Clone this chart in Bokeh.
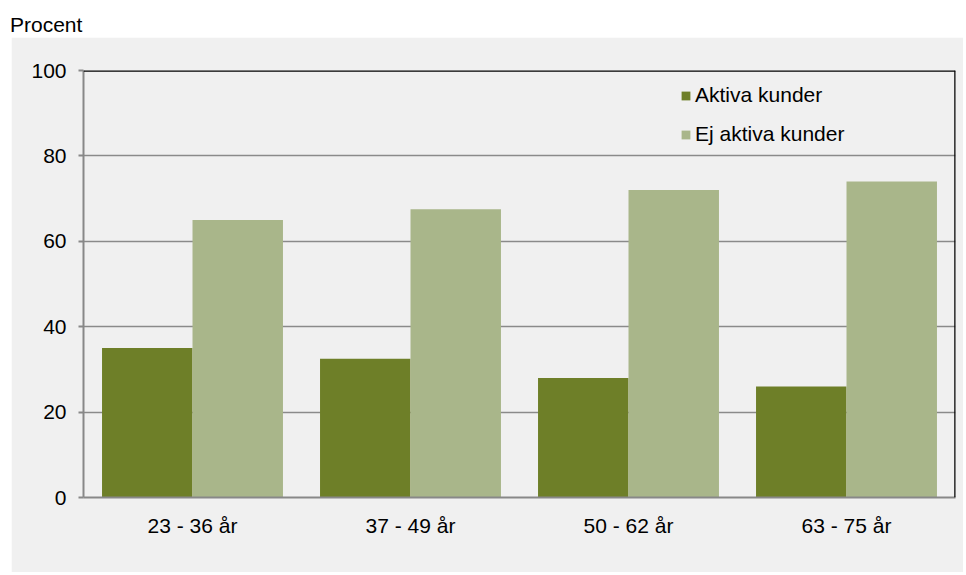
from bokeh.plotting import figure
from bokeh.models import ColumnDataSource, FactorRange, Span, Legend, LegendItem, Div
from bokeh.layouts import column
from bokeh.transform import dodge
from bokeh.embed import file_html
from bokeh.resources import INLINE

categories = ["23 - 36 år", "37 - 49 år", "50 - 62 år", "63 - 75 år"]
aktiva = [35, 32.5, 28, 26]
ej_aktiva = [65, 67.5, 72, 74]
series_names = ["Aktiva kunder", "Ej aktiva kunder"]
y_ticks = [0, 20, 40, 60, 80, 100]

FONT = "Liberation Sans"
DARK = "#6E7F28"
LIGHT = "#A9B68A"
BG = "#F0F0F0"

src = ColumnDataSource(dict(cat=categories, a=aktiva, e=ej_aktiva))

p = figure(x_range=FactorRange(*categories, range_padding=0), y_range=(0, 100),
           width=952, height=535, output_backend="svg", toolbar_location=None,
           min_border_left=72, min_border_top=33, min_border_right=8, min_border_bottom=75,
           background_fill_color=BG, border_fill_color=BG, outline_line_color=None)
p.margin = (0, 0, 0, 11)

bw = 0.415
r1 = p.vbar(x=dodge("cat", -bw / 2, range=p.x_range), top="a", width=bw, source=src,
            fill_color=DARK, line_color=None)
r2 = p.vbar(x=dodge("cat", bw / 2, range=p.x_range), top="e", width=bw, source=src,
            fill_color=LIGHT, line_color=None)

p.yaxis.ticker = y_ticks
p.ygrid.grid_line_color = "#8A8A8A"
p.ygrid.grid_line_width = 1.5
p.xgrid.grid_line_color = None

for ax in (p.xaxis[0], p.yaxis[0]):
    ax.axis_line_color = "#888888"
    ax.axis_line_width = 2
    ax.major_label_text_font = FONT
    ax.major_label_text_font_size = "21px"
    ax.major_label_text_color = "#000000"
    ax.minor_tick_line_color = None

p.yaxis.major_tick_line_color = "#888888"
p.yaxis.major_tick_line_width = 2
p.yaxis.major_tick_out = 5
p.yaxis.major_tick_in = 0
p.yaxis.major_label_standoff = 12

p.xaxis.major_tick_line_color = None
p.xaxis.major_tick_out = 0
p.xaxis.major_tick_in = 0
p.xaxis.major_label_standoff = 16

p.add_layout(Span(location=100, dimension="width", line_color="black", line_width=2.5))
p.add_layout(Span(location=4, dimension="height", line_color="black", line_width=2.5))

legend = Legend(items=[LegendItem(label=series_names[0], renderers=[r1]),
                       LegendItem(label=series_names[1], renderers=[r2])],
                location=(597, 351), padding=0, margin=0, spacing=15,
                glyph_width=11, glyph_height=11, label_height=24, label_standoff=4,
                label_text_font=FONT, label_text_font_size="21px", label_text_color="#000000",
                border_line_color=None, background_fill_alpha=0)
p.add_layout(legend)

title = Div(text="Procent", width=300, height=37, margin=(0, 0, 0, 0),
            styles={"font-family": FONT, "font-size": "21px", "color": "#000000",
                    "padding-top": "13px", "padding-left": "10px", "line-height": "24px",
                    "box-sizing": "border-box"})

layout = column(title, p, spacing=0)
open("out.html", "w").write(file_html(layout, INLINE))
